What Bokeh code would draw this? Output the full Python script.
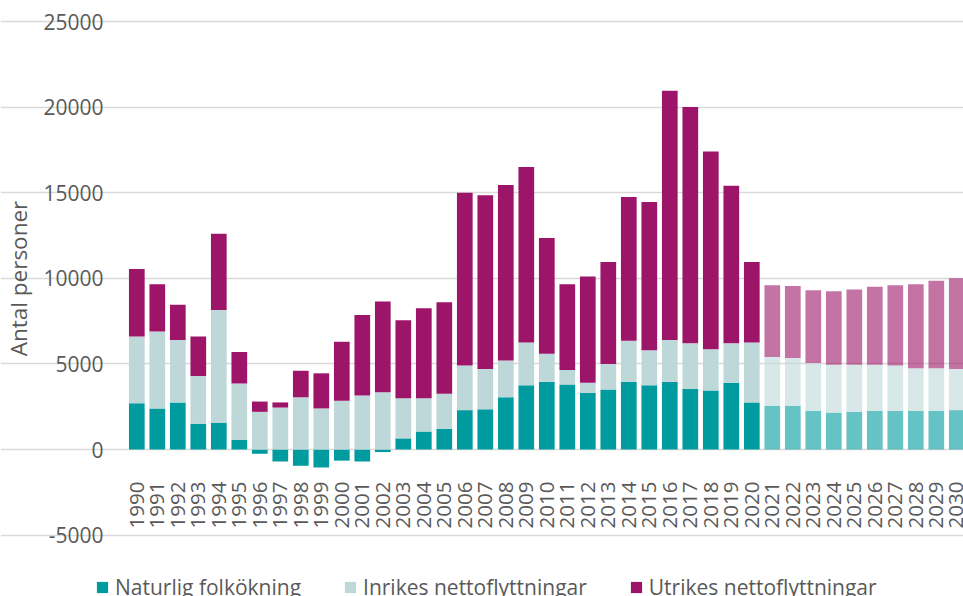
import math
from bokeh.plotting import figure
from bokeh.models import (ColumnDataSource, Range1d, FixedTicker, Legend, LegendItem,
                          PrintfTickFormatter)
from bokeh.embed import file_html
from bokeh.resources import INLINE

years = list(range(1990, 2031))
forecast_from = 2021

naturlig = [2700, 2400, 2750, 1500, 1550, 550, -250, -700, -950, -1050, -650, -700, -150,
            650, 1050, 1200, 2300, 2350, 3050, 3750, 3950, 3800, 3300, 3500, 3950, 3750,
            3950, 3550, 3450, 3900, 2750,
            2550, 2550, 2250, 2150, 2200, 2250, 2250, 2250, 2250, 2300]
inrikes = [3900, 4500, 3650, 2800, 6600, 3300, 2200, 2450, 3050, 2400, 2850, 3150, 3350,
           2350, 1950, 2050, 2600, 2350, 2150, 2500, 1650, 850, 600, 1500, 2400, 2050,
           2450, 2650, 2400, 2300, 3500,
           2850, 2800, 2800, 2800, 2750, 2700, 2650, 2500, 2500, 2400]
utrikes = [3950, 2750, 2050, 2300, 4450, 1850, 600, 300, 1550, 2050, 3450, 4700, 5300,
           4550, 5250, 5350, 10100, 10150, 10250, 10250, 6750, 5000, 6200, 5950, 8400, 8650,
           14550, 13800, 11550, 9200, 4700,
           4200, 4200, 4250, 4300, 4400, 4550, 4700, 4900, 5100, 5300]

series_names = ["Naturlig folkökning", "Inrikes nettoflyttningar", "Utrikes nettoflyttningar"]
colors = ["#009B9E", "#BED8DA", "#9D1569"]
y_ticks = [-5000, 0, 5000, 10000, 15000, 20000, 25000]

# Excel-style stacking: positives stack upward from 0, negatives go below 0
n_top = naturlig
i_bot = [max(n, 0) for n in naturlig]
i_top = [b + v for b, v in zip(i_bot, inrikes)]
u_bot = i_top
u_top = [b + v for b, v in zip(u_bot, utrikes)]
alpha = [0.6 if y >= forecast_from else 1.0 for y in years]

src = ColumnDataSource(dict(x=years, n_bot=[0] * len(years), n_top=n_top,
                            i_bot=i_bot, i_top=i_top, u_bot=u_bot, u_top=u_top,
                            alpha=alpha))

x_left = 1989.45   # where the plot area (gridlines) begins
p = figure(width=963, height=596,
           x_range=Range1d(1983.351, 2030.327), y_range=Range1d(-8586, 26227),
           output_backend="svg", toolbar_location=None,
           min_border_left=0, min_border_right=0, min_border_top=0, min_border_bottom=0)
p.outline_line_color = None
p.background_fill_color = "white"
p.border_fill_color = "white"

bw = 0.766
r_n = p.vbar(x="x", bottom="n_bot", top="n_top", width=bw, source=src,
             fill_color=colors[0], fill_alpha="alpha", line_color=None)
r_i = p.vbar(x="x", bottom="i_bot", top="i_top", width=bw, source=src,
             fill_color=colors[1], fill_alpha="alpha", line_color=None)
r_u = p.vbar(x="x", bottom="u_bot", top="u_top", width=bw, source=src,
             fill_color=colors[2], fill_alpha="alpha", line_color=None)

txt = "#595959"
font = "Open Sans"

# y axis, drawn at the left edge of the plot area
yax = p.yaxis[0]
yax.fixed_location = x_left
yax.bounds = (y_ticks[0], y_ticks[-1])
yax.ticker = FixedTicker(ticks=y_ticks)
yax.formatter = PrintfTickFormatter(format="%d")
yax.axis_line_color = None
yax.major_tick_line_color = None
yax.minor_tick_line_color = None
yax.major_tick_out = 0
yax.major_label_standoff = 22
yax.major_label_text_font = font
yax.major_label_text_font_size = "21px"
yax.major_label_text_color = txt
yax.axis_label = "Antal personer"
yax.axis_label_text_font = font
yax.axis_label_text_font_size = "22.5px"
yax.axis_label_text_font_style = "normal"
yax.axis_label_text_color = txt
yax.axis_label_standoff = 6

p.ygrid.ticker = FixedTicker(ticks=y_ticks)
p.ygrid.bounds = (x_left, 2030.327)
p.ygrid.grid_line_color = "#D9D9D9"
p.ygrid.grid_line_width = 1.5
p.xgrid.visible = False

# x axis at y = 0
xax = p.xaxis[0]
xax.ticker = FixedTicker(ticks=years)
xax.fixed_location = 0
xax.axis_line_color = None
xax.major_tick_line_color = None
xax.minor_tick_line_color = None
xax.major_tick_out = 0
xax.major_label_standoff = 32
xax.major_label_orientation = math.pi / 2
xax.major_label_text_font = font
xax.major_label_text_font_size = "20.5px"
xax.major_label_text_color = txt

legend = Legend(items=[LegendItem(label=series_names[0], renderers=[r_n]),
                       LegendItem(label=series_names[1], renderers=[r_i]),
                       LegendItem(label=series_names[2], renderers=[r_u])],
                orientation="horizontal", location=(95, -5),
                padding=0, margin=0, spacing=42, label_standoff=6,
                glyph_width=14, glyph_height=14,
                label_text_font=font, label_text_font_size="21px",
                label_text_color=txt, border_line_color=None,
                background_fill_alpha=0)
p.add_layout(legend, "center")

open("out.html", "w").write(file_html(p, INLINE))
